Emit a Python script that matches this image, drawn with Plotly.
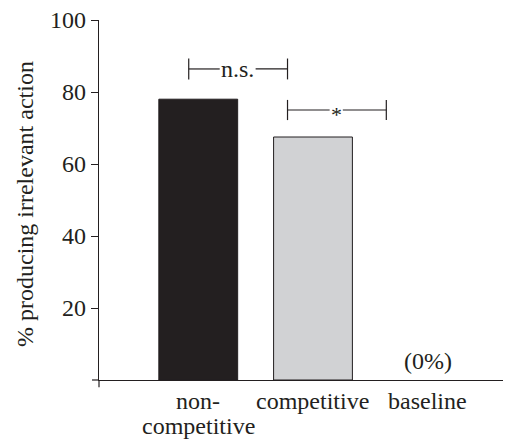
import plotly.graph_objects as go

categories = ["non-<br>competitive", "competitive", "baseline"]
values = [78, 67.5, 0]
bar_colors = ["#231f20", "#d1d2d4", "#ffffff"]
bar_outline = [1, 1, 0]
y_ticks = [20, 40, 60, 80, 100]
y_title = "% producing irrelevant action"

FONT = "Liberation Serif"
FS = 24
INK = "#231f20"
x_pos = list(range(len(categories)))

fig = go.Figure()
fig.add_trace(go.Bar(
    x=x_pos, y=values, width=0.687,
    marker=dict(color=bar_colors, line=dict(color=INK, width=bar_outline)),
    hoverinfo="skip",
))

line_style = dict(color=INK, width=1.2)

def bracket(x0, x1, y, h, label, gap_l, gap_r, size=FS, shift=0):
    fig.add_shape(type="line", x0=x0, x1=x0, y0=y - h, y1=y + h, xref="x", yref="y", line=line_style)
    fig.add_shape(type="line", x0=x1, x1=x1, y0=y - h, y1=y + h, xref="x", yref="y", line=line_style)
    fig.add_shape(type="line", x0=x0, x1=gap_l, y0=y, y1=y, xref="x", yref="y", line=line_style)
    fig.add_shape(type="line", x0=gap_r, x1=x1, y0=y, y1=y, xref="x", yref="y", line=line_style)
    fig.add_annotation(x=(gap_l + gap_r) / 2, y=y, text=label, showarrow=False, yshift=shift,
                       font=dict(family=FONT, size=size, color=INK), xref="x", yref="y")

bracket(-0.083, 0.778, 86.4, 2.9, "n.s.", 0.187, 0.50)
bracket(0.778, 1.639, 75.0, 2.8, "*", 1.145, 1.26, size=22, shift=-4)

fig.add_annotation(x=2, y=0, text="(0%)", showarrow=False, yanchor="bottom", yshift=4,
                   font=dict(family=FONT, size=FS, color=INK))

# category labels (tight line spacing like the reference)
for xi, cat in zip(x_pos, categories):
    for li, part in enumerate(cat.split("<br>")):
        fig.add_annotation(x=xi, y=0, xref="x", yref="paper", text=part, showarrow=False,
                           yanchor="middle", yshift=-21 - 25 * li,
                           font=dict(family=FONT, size=FS, color=INK))

# y axis title
fig.add_annotation(x=0, y=0.5, xref="paper", yref="paper", text=y_title, showarrow=False,
                   textangle=-90, xanchor="center", yanchor="middle", xshift=-74, yshift=-4,
                   font=dict(family=FONT, size=FS, color=INK))

# axis cross extensions at origin
fig.add_shape(type="line", xref="paper", yref="paper", x0=0, x1=0, y0=0, y1=-0.02, line=dict(color=INK, width=1.2))
fig.add_shape(type="line", xref="paper", yref="paper", x0=-0.017, x1=0, y0=0, y1=0, line=dict(color=INK, width=1.2))

fig.update_layout(
    width=503, height=433,
    margin=dict(l=91, r=1, t=12, b=61),
    plot_bgcolor="white", paper_bgcolor="white",
    showlegend=False,
    font=dict(family=FONT, size=FS, color=INK),
    xaxis=dict(range=[-0.865, 2.717], tickvals=x_pos, showticklabels=False,
               showline=True, linecolor=INK, linewidth=1.2, ticks="",
               showgrid=False, zeroline=False, automargin=False),
    yaxis=dict(range=[0, 100], tickvals=y_ticks, showline=True, linecolor=INK,
               linewidth=1.2, ticks="outside", ticklen=7, tickcolor=INK, tickwidth=1.2,
               showgrid=False, zeroline=False, tickfont=dict(size=FS), automargin=False,
               ticklabeloverflow="allow"),
)

fig.write_html("out.html")
